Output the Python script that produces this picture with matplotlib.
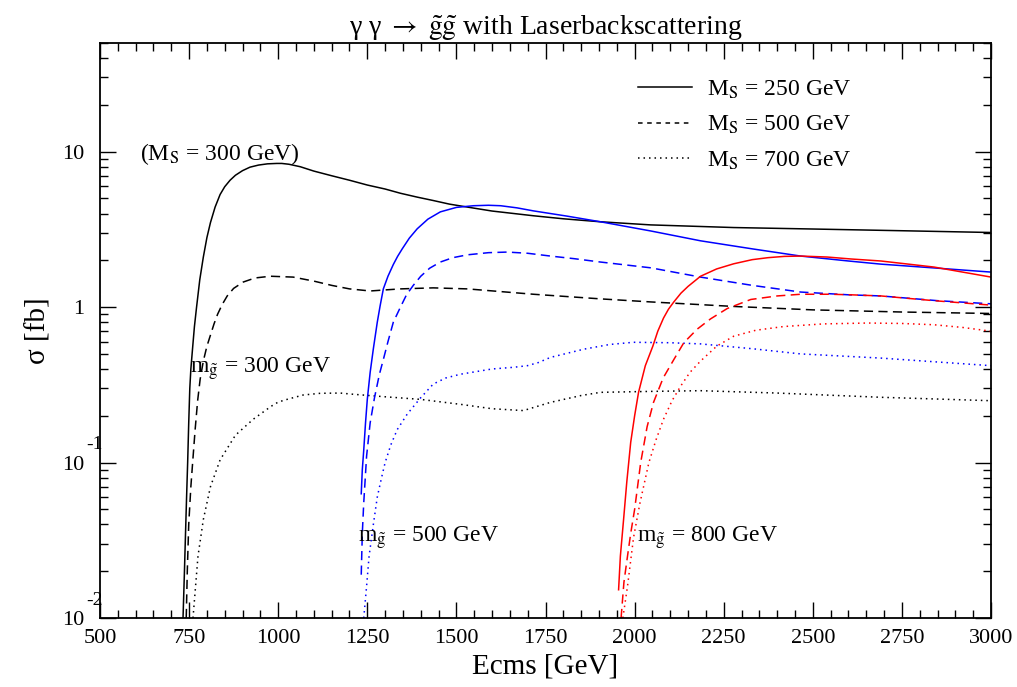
import numpy as np
import matplotlib
matplotlib.use("Agg")
import matplotlib.pyplot as plt
import matplotlib.transforms as mtransforms
from matplotlib.lines import Line2D
from matplotlib.ticker import MultipleLocator, LogLocator, NullFormatter

plt.rcParams['font.family'] = ['Liberation Serif', 'DejaVu Serif']
plt.rcParams['mathtext.fontset'] = 'stix'

# gluino mass 300 GeV (black)
x_g300_ms250 = [733, 737, 740, 743, 746, 749, 752, 755, 760, 765, 771, 780, 790, 800, 810, 823, 837, 850,
                865, 880, 900, 921, 945, 970, 996, 1010, 1030, 1062, 1100, 1150, 1200, 1250,
                1300, 1343, 1390, 1435, 1480, 1531, 1600, 1716, 1800, 1904, 2000, 2045, 2278, 2500, 2750, 3000]
y_g300_ms250 = [0.01, 0.02, 0.035, 0.06, 0.1, 0.18, 0.3, 0.4, 0.55, 0.75, 1.0, 1.5, 2.1, 2.8, 3.5, 4.4, 5.3, 5.95,
                6.55, 7.05, 7.55, 7.95, 8.2, 8.35, 8.4, 8.4, 8.3, 8.0, 7.5, 7.0, 6.55, 6.1,
                5.75, 5.4, 5.1, 4.85, 4.6, 4.4, 4.15, 3.87, 3.7, 3.54, 3.43, 3.38, 3.25, 3.18, 3.1, 3.02]

x_g300_ms500 = [742, 745, 749, 755, 760, 767, 774, 781, 790, 800, 809, 820, 830, 843, 857, 875, 902, 935,
                978, 1042, 1100, 1150, 1200, 1258, 1300, 1343, 1435, 1531, 1716, 1904, 2045, 2278, 2500,
                2750, 3000]
y_g300_ms500 = [0.01, 0.02, 0.04, 0.07, 0.1, 0.163, 0.25, 0.343, 0.45, 0.56, 0.65, 0.78, 0.9, 1.04, 1.18, 1.32,
                1.45, 1.54, 1.58, 1.56, 1.47, 1.38, 1.31, 1.27, 1.29, 1.31, 1.33, 1.31, 1.21, 1.13, 1.08,
                1.01, 0.96, 0.93, 0.91]

x_g300_ms700 = [761, 775, 790, 810, 837, 880, 930, 980, 1000, 1025, 1070, 1118, 1174, 1211, 1300, 1399,
                1511, 1600, 1688, 1764, 1850, 1904, 2045, 2185, 2400, 2691, 3000]
y_g300_ms700 = [0.01, 0.025, 0.043, 0.07, 0.104, 0.15, 0.19, 0.23, 0.245, 0.255, 0.272, 0.279, 0.28, 0.275,
                0.265, 0.255, 0.237, 0.222, 0.216, 0.244, 0.27, 0.283, 0.287, 0.29, 0.28, 0.263, 0.25]

# gluino mass 500 GeV (blue)
x_g500_ms250 = [1233, 1236, 1240, 1245, 1250, 1258, 1267, 1278, 1286, 1295, 1308, 1323, 1335, 1348, 1368,
                1390, 1420, 1455, 1500, 1548, 1590, 1624, 1670, 1716, 1810, 1904, 2045, 2185, 2330, 2466,
                2600, 2691, 2850, 3000]
y_g500_ms250 = [0.063, 0.09, 0.12, 0.18, 0.255, 0.38, 0.54, 0.8, 1.02, 1.31, 1.58, 1.88, 2.12, 2.37, 2.78,
                3.19, 3.68, 4.1, 4.38, 4.49, 4.52, 4.49, 4.35, 4.16, 3.85, 3.54, 3.09, 2.67, 2.37, 2.13,
                1.98, 1.89, 1.78, 1.68]

x_g500_ms500 = [1233, 1236, 1240, 1248, 1258, 1270, 1284, 1295, 1308, 1323, 1343, 1360, 1379, 1400, 1425,
                1455, 1490, 1531, 1590, 1643, 1700, 1764, 1830, 1904, 2045, 2185, 2330, 2466, 2600, 2691,
                2850, 3000]
y_g500_ms500 = [0.019, 0.035, 0.055, 0.11, 0.18, 0.26, 0.37, 0.46, 0.6, 0.8, 1.0, 1.2, 1.38, 1.58, 1.78,
                1.95, 2.08, 2.17, 2.24, 2.26, 2.22, 2.13, 2.05, 1.95, 1.79, 1.56, 1.38, 1.25, 1.2, 1.18,
                1.1, 1.05]

x_g500_ms700 = [1240, 1248, 1255, 1267, 1278, 1290, 1300, 1316, 1334, 1362, 1399, 1435, 1470, 1511, 1600,
                1660, 1699, 1730, 1764, 1857, 1930, 1997, 2100, 2185, 2330, 2466, 2691, 3000]
y_g500_ms700 = [0.01, 0.016, 0.025, 0.04, 0.06, 0.08, 0.1, 0.13, 0.163, 0.205, 0.26, 0.32, 0.35, 0.37, 0.4,
                0.41, 0.42, 0.44, 0.475, 0.536, 0.575, 0.594, 0.59, 0.58, 0.54, 0.50, 0.47, 0.42]

# gluino mass 800 GeV (red)
x_g800_ms250 = [1955, 1960, 1969, 1978, 1989, 2000, 2011, 2030, 2051, 2065, 2081, 2095, 2110, 2130, 2150,
                2185, 2230, 2278, 2330, 2374, 2420, 2466, 2540, 2607, 2691, 2840, 3000]
y_g800_ms250 = [0.0152, 0.025, 0.043, 0.075, 0.135, 0.2, 0.283, 0.42, 0.56, 0.7, 0.85, 0.97, 1.08, 1.23, 1.36,
                1.58, 1.76, 1.9, 2.02, 2.08, 2.12, 2.13, 2.1, 2.04, 1.98, 1.81, 1.56]

x_g800_ms500 = [1962, 1970, 1980, 1989, 2000, 2017, 2035, 2053, 2080, 2110, 2138, 2175, 2213, 2260, 2326,
                2400, 2466, 2550, 2607, 2691, 2840, 3000]
y_g800_ms500 = [0.01, 0.017, 0.025, 0.035, 0.05, 0.1, 0.17, 0.244, 0.35, 0.46, 0.59, 0.72, 0.84, 0.98, 1.12,
                1.18, 1.21, 1.21, 1.2, 1.18, 1.1, 1.03]

x_g800_ms700 = [1967, 1980, 1997, 2015, 2040, 2060, 2081, 2105, 2129, 2155, 2185, 2230, 2278, 2340, 2418,
                2530, 2654, 2750, 2840, 2920, 3000]
y_g800_ms700 = [0.01, 0.016, 0.033, 0.055, 0.1, 0.14, 0.19, 0.25, 0.31, 0.38, 0.45, 0.56, 0.65, 0.71, 0.75,
                0.78, 0.79, 0.785, 0.77, 0.74, 0.70]

ytick_vals = [0.01, 0.1, 1, 10]
ytick_labels = ['10', '10', '1', '10']
ytick_exps = ['-2', '-1', '', '']
legend_labels = [r'M$_{\rm S}$ = 250 GeV', r'M$_{\rm S}$ = 500 GeV', r'M$_{\rm S}$ = 700 GeV']

lw = 1.1
dash = (6, 3.5)
dot = (1, 2.6)

fig = plt.figure(figsize=(10.17, 6.87), dpi=100)
ax = fig.add_axes([0.0983, 0.1004, 0.8762, 0.837])

series = [
    (x_g300_ms250, y_g300_ms250, 'black', None),
    (x_g300_ms500, y_g300_ms500, 'black', dash),
    (x_g300_ms700, y_g300_ms700, 'black', dot),
    (x_g500_ms250, y_g500_ms250, 'blue', None),
    (x_g500_ms500, y_g500_ms500, 'blue', dash),
    (x_g500_ms700, y_g500_ms700, 'blue', dot),
    (x_g800_ms250, y_g800_ms250, 'red', None),
    (x_g800_ms500, y_g800_ms500, 'red', dash),
    (x_g800_ms700, y_g800_ms700, 'red', dot),
]
for xs, ys, c, d in series:
    line, = ax.plot(xs, ys, color=c, lw=lw)
    if d is not None:
        line.set_dashes(d)

ax.set_yscale('log')
ax.set_xlim(500, 3000)
ax.set_ylim(0.01, 50)

ax.xaxis.set_major_locator(MultipleLocator(250))
ax.xaxis.set_minor_locator(MultipleLocator(50))
ax.set_yticks(ytick_vals)
ax.set_yticklabels(ytick_labels)
ax.yaxis.set_minor_locator(LogLocator(base=10, subs=np.arange(2, 10)))
ax.yaxis.set_minor_formatter(NullFormatter())

ax.tick_params(which='both', direction='in', top=True, right=True, labelsize=16, width=1.0)
ax.tick_params(which='major', length=11.5)
ax.tick_params(which='minor', length=5.5)
ax.tick_params(axis='x', pad=8)
ax.tick_params(axis='y', pad=11)
for s in ax.spines.values():
    s.set_linewidth(1.3)

# small exponents beside the y tick labels
trans = mtransforms.blended_transform_factory(ax.transAxes, ax.transData)
for v, e in zip(ytick_vals, ytick_exps):
    if e:
        ax.text(-0.015, v * 1.3, e, transform=trans, fontsize=14, ha='left', va='center')

ax.set_xlabel('Ecms [GeV]', fontsize=21, labelpad=4)
ax.set_ylabel('σ [fb]', fontsize=21, labelpad=8)
ax.set_title(r'γ γ $\rightarrow$ $\tilde{\rm g}\tilde{\rm g}$ with Laserbackscattering', fontsize=20, pad=3)

ax.text(612, 9.7, r'(M$_{\rm S}$ = 300 GeV)', fontsize=17, va='center')
ax.text(753, 0.40, r'm$_{\tilde{\rm g}}$ = 300 GeV', fontsize=17, va='center')
ax.text(1225, 0.033, r'm$_{\tilde{\rm g}}$ = 500 GeV', fontsize=17, va='center')
ax.text(2008, 0.033, r'm$_{\tilde{\rm g}}$ = 800 GeV', fontsize=17, va='center')

handles = [Line2D([], [], color='black', lw=lw),
           Line2D([], [], color='black', lw=lw, dashes=(3, 3)),
           Line2D([], [], color='black', lw=lw, dashes=dot)]
ax.legend(handles, legend_labels, loc='upper left', bbox_to_anchor=(0.58, 0.975), frameon=False,
          fontsize=17, handlelength=2.3, handletextpad=0.6, labelspacing=0.55)

fig.savefig('out.png', dpi=100)
